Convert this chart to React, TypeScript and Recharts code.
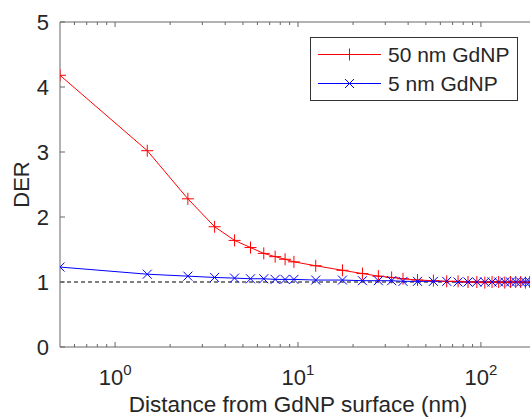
import React from "react";
import { LineChart, Line, XAxis, YAxis, ReferenceLine, Legend } from "recharts";

// distance from the GdNP surface (nm), bin centres
const distance = [
  0.5, 1.5, 2.5, 3.5, 4.5, 5.5, 6.5, 7.5, 8.5, 9.5,
  12.5, 17.5, 22.5, 27.5, 32.5, 37.5,
  45, 55, 65, 75, 85, 95, 105, 115, 125, 135, 145, 155, 165, 175, 185, 195
];

const der50nm = [
  4.18, 3.02, 2.28, 1.85, 1.64, 1.53, 1.44, 1.39, 1.35, 1.31,
  1.25, 1.18, 1.13, 1.09, 1.07, 1.05,
  1.03, 1.02, 1.01, 1.01, 1.0, 1.0, 0.99, 1.0, 1.0, 0.99, 1.0, 1.0, 1.0, 0.99, 1.0, 1.0
];

const der5nm = [
  1.23, 1.12, 1.09, 1.07, 1.06, 1.05, 1.05, 1.04, 1.04, 1.04,
  1.03, 1.03, 1.02, 1.02, 1.02, 1.01,
  1.01, 1.01, 1.01, 1.0, 1.0, 1.0, 1.0, 1.0, 1.0, 1.0, 1.0, 1.0, 1.0, 1.0, 1.0, 1.0
];

const majorTicks = [1, 10, 100];
const minorTicks = [0.6, 0.7, 0.8, 0.9, 2, 3, 4, 5, 6, 7, 8, 9, 20, 30, 40, 50, 60, 70, 80, 90, 200];
const xTicks = [...minorTicks, ...majorTicks].sort((a, b) => a - b);
const yTicks = [0, 1, 2, 3, 4, 5];

const data = distance.map((d, i) => ({ d, der50: der50nm[i], der5: der5nm[i] }));

const series = [
  { key: "der50", name: "50 nm GdNP", color: "#ff0000", marker: "plus" },
  { key: "der5", name: "5 nm GdNP", color: "#0000ff", marker: "cross" }
];

const FONT = "'Liberation Sans', Arial, Helvetica, sans-serif";
const AXIS = "#666666";
const TEXT = "#262626";

const Marker = ({ cx, cy, kind, color }: any) =>
  kind === "plus" ? (
    <path d={`M${cx - 6},${cy}h12M${cx},${cy - 6}v12`} stroke={color} strokeWidth={1} fill="none" />
  ) : (
    <path d={`M${cx - 4.5},${cy - 4.5}l9,9M${cx - 4.5},${cy + 4.5}l9,-9`} stroke={color} strokeWidth={1} fill="none" />
  );

const makeDot = (kind: string, color: string) => (props: any) =>
  <Marker key={`${kind}-${props.index}`} cx={props.cx} cy={props.cy} kind={kind} color={color} />;

const BottomTick = ({ x, y, payload }: any) => {
  const v = payload.value;
  const major = majorTicks.includes(v);
  return (
    <g>
      <line x1={x} x2={x} y1={y} y2={y - (major ? 5 : 3)} stroke={AXIS} />
      {major && (
        <text x={x} y={y + 38} textAnchor="middle" fill={TEXT} fontSize={22} fontFamily={FONT}>
          10<tspan dy={-10} fontSize={15}>{Math.round(Math.log10(v))}</tspan>
        </text>
      )}
    </g>
  );
};

const TopTick = ({ x, y, payload }: any) => {
  const major = majorTicks.includes(payload.value);
  return <line x1={x} x2={x} y1={y} y2={y + (major ? 5 : 3)} stroke={AXIS} />;
};

const LeftTick = ({ x, y, payload }: any) => (
  <g>
    <line x1={x} x2={x + 5} y1={y} y2={y} stroke={AXIS} />
    <text x={x - 11} y={y} dy="0.36em" textAnchor="end" fill={TEXT} fontSize={22} fontFamily={FONT}>
      {payload.value}
    </text>
  </g>
);

// keep the plotting order (Recharts sorts legend items by name otherwise)
const LegendBox = () => (
  <div
    style={{
      width: 208, height: 64, boxSizing: "border-box", border: "1px solid #333",
      background: "#fff", paddingTop: 2, fontFamily: FONT, fontSize: 21, color: TEXT
    }}
  >
    {series.map((s) => (
      <div key={s.key} style={{ display: "flex", alignItems: "center", height: 29 }}>
        <svg width={77} height={29}>
          <line x1={7} x2={70} y1={14.5} y2={14.5} stroke={s.color} />
          <Marker cx={38.5} cy={14.5} kind={s.marker} color={s.color} />
        </svg>
        <span style={{ lineHeight: "29px" }}>{s.name}</span>
      </div>
    ))}
  </div>
);

export default function App() {
  return (
    <div style={{ position: "absolute", left: 0, top: 0, width: 530, height: 417, overflow: "hidden", background: "#fff" }}>
      <LineChart width={560} height={417} data={data} margin={{ top: 20, right: 24, bottom: 0, left: 0 }}>
        <XAxis
          dataKey="d" type="number" scale="log" domain={[0.5, 200]} ticks={xTicks}
          allowDataOverflow interval={0} height={70} tickSize={0} tickMargin={0}
          axisLine={{ stroke: AXIS }} tickLine={false} tick={<BottomTick />}
          label={{ value: "Distance from GdNP surface (nm)", position: "insideBottom", offset: 5, fill: TEXT, fontSize: 22.5, fontFamily: FONT }}
        />
        <XAxis
          xAxisId="top" orientation="top" dataKey="d" type="number" scale="log" domain={[0.5, 200]}
          ticks={xTicks} allowDataOverflow interval={0} height={2} tickSize={0} tickMargin={0}
          axisLine={{ stroke: AXIS }} tickLine={false} tick={<TopTick />}
        />
        <YAxis
          type="number" domain={[0, 5]} ticks={yTicks} interval={0} width={60} tickSize={0} tickMargin={0}
          axisLine={{ stroke: AXIS }} tickLine={false} tick={<LeftTick />}
          label={{
            content: ({ viewBox }: any) => {
              const cx = 21;
              const cy = viewBox.y + viewBox.height / 2;
              return (
                <text x={cx} y={cy} dy="0.36em" textAnchor="middle" transform={`rotate(-90, ${cx}, ${cy})`}
                  fill={TEXT} fontSize={22} fontFamily={FONT}>DER</text>
              );
            }
          }}
        />
        <ReferenceLine y={1} stroke="#000" strokeDasharray="4 3" strokeWidth={1} />
        {series.map((s) => (
          <Line
            key={s.key} dataKey={s.key} name={s.name} type="linear" stroke={s.color} strokeWidth={1}
            dot={makeDot(s.marker, s.color)} activeDot={false} isAnimationActive={false}
          />
        ))}
        <Legend
          layout="horizontal" verticalAlign="middle" align="center" content={<LegendBox />}
          wrapperStyle={{ left: 310, top: 37, width: 208, height: 64 }}
        />
      </LineChart>
    </div>
  );
}
